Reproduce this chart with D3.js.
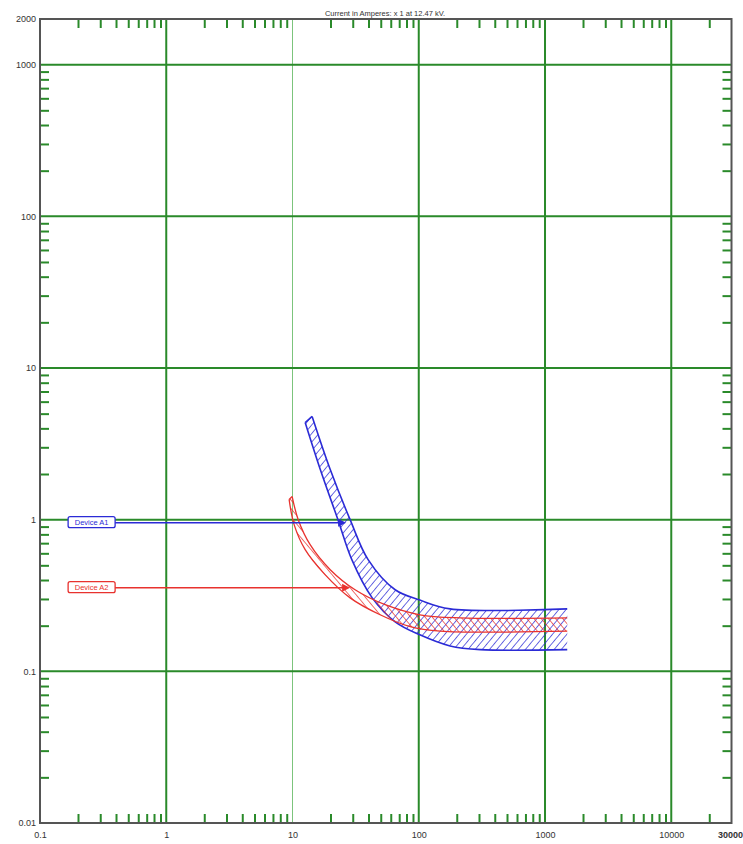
<!DOCTYPE html>
<html>
<head>
<meta charset="utf-8">
<script src="https://cdn.jsdelivr.net/npm/d3@7"></script>
<style>
  body { margin: 0; background: #fff; }
  svg { display: block; font-family: "Liberation Sans", Arial, sans-serif; }
</style>
</head>
<body>
<div id="chart"></div>
<script>
// axis values / labels
var xMajor = [0.1, 1, 10, 100, 1000, 10000, 30000];
var xLabels = ["0.1", "1", "10", "100", "1000", "10000", "30000"];
var yMajor = [0.01, 0.1, 1, 10, 100, 1000, 2000];
var yLabels = ["0.01", "0.1", "1", "10", "100", "1000", "2000"];
var title = "Current in Amperes: x 1 at 12.47 kV.";

// Device A1 band (current A, time s)
var a1Max = [[14.3, 4.79], [19.9, 2.14], [28.6, 1.0], [39.7, 0.545], [65, 0.345], [102, 0.295], [177, 0.258], [1500, 0.258]];
var a1Min = [[12.6, 4.37], [16.6, 2.14], [22.9, 1.0], [29.5, 0.545], [42.8, 0.305], [65, 0.212], [102, 0.174], [177, 0.147], [307, 0.139], [1500, 0.139]];
// Device A2 band
var a2Max = [[9.94, 1.42], [11.1, 1.0], [13.8, 0.684], [19.9, 0.468], [31.3, 0.345], [54.2, 0.275], [102, 0.236], [213, 0.225], [1500, 0.225]];
var a2Min = [[9.4, 1.36], [10.3, 0.927], [12.6, 0.634], [18.1, 0.434], [28.6, 0.305], [49.4, 0.236], [85.5, 0.197], [148, 0.184], [1500, 0.184]];

// labels: name, label current, line time, arrow tip current
var devices = [
  { name: "Device A1", color: "#2b2bd6", at: 0.167, t: 0.955, tip: 26.6 },
  { name: "Device A2", color: "#e8322e", at: 0.167, t: 0.356, tip: 28.6 }
];

var W = 743, H = 844;
var svg = d3.select("#chart").append("svg").attr("width", W).attr("height", H);

var x = d3.scaleLog().domain([0.1, 30000]).range([40, 731.5]);
var y = d3.scaleLog().domain([0.01, 2000]).range([823, 19]);

var green = "#2a8a2a";

// patterns
var defs = svg.append("defs");
function hatch(id, color, dir) {
  var p = defs.append("pattern").attr("id", id).attr("patternUnits", "userSpaceOnUse")
    .attr("width", 5.5).attr("height", 5.5)
    .attr("patternTransform", "rotate(" + dir + ")");
  p.append("line").attr("x1", 0).attr("y1", 0).attr("x2", 0).attr("y2", 5.5)
    .attr("stroke", color).attr("stroke-width", 1.4);
}
hatch("hBlue", "#2b2bd6", 40);
hatch("hRed", "#e8322e", -40);

// grid lines
var gx = [1, 10, 100, 1000, 10000];
var gy = [0.1, 1, 10, 100, 1000];
svg.append("g").selectAll("line").data(gx).enter().append("line")
  .attr("x1", d => x(d)).attr("x2", d => x(d)).attr("y1", y(2000)).attr("y2", y(0.01))
  .attr("stroke", d => d === 10 ? "#7cc47c" : green)
  .attr("stroke-width", d => d === 10 ? 1 : 2);
svg.append("g").selectAll("line").data(gy).enter().append("line")
  .attr("y1", d => y(d)).attr("y2", d => y(d)).attr("x1", x(0.1)).attr("x2", x(30000))
  .attr("stroke", green).attr("stroke-width", 2);

// minor ticks
var xMinor = x.ticks().filter(d => gx.indexOf(d) < 0 && xMajor.indexOf(d) < 0);
var yMinor = y.ticks().filter(d => gy.indexOf(d) < 0 && yMajor.indexOf(d) < 0);

function minor(axis, tx, ty) {
  var g = svg.append("g").attr("transform", "translate(" + tx + "," + ty + ")").call(axis);
  g.select(".domain").remove();
  g.selectAll("text").remove();
  g.selectAll(".tick line").attr("stroke", green).attr("stroke-width", 2);
}
minor(d3.axisTop(x).tickValues(xMinor).tickSize(-9), 0, y(2000));
minor(d3.axisBottom(x).tickValues(xMinor).tickSize(-9), 0, y(0.01));
minor(d3.axisLeft(y).tickValues(yMinor).tickSize(-9), x(0.1), 0);
minor(d3.axisRight(y).tickValues(yMinor).tickSize(-9), x(30000), 0);

// frame
svg.append("rect").attr("x", x(0.1)).attr("y", y(2000))
  .attr("width", x(30000) - x(0.1)).attr("height", y(0.01) - y(2000))
  .attr("fill", "none").attr("stroke", "#555").attr("stroke-width", 2);

// labels
var yAx = svg.append("g").attr("transform", "translate(" + x(0.1) + ",0)")
  .call(d3.axisLeft(y).tickValues(yMajor).tickSize(0).tickPadding(4).tickFormat((d, i) => yLabels[i]));
yAx.select(".domain").remove();
yAx.selectAll("text").attr("font-size", 9).attr("fill", "#333").attr("font-family", "Liberation Sans, Arial");

var xAx = svg.append("g").attr("transform", "translate(0," + y(0.01) + ")")
  .call(d3.axisBottom(x).tickValues(xMajor).tickSize(0).tickPadding(9).tickFormat((d, i) => xLabels[i]));
xAx.select(".domain").remove();
xAx.selectAll("text").attr("font-size", 9).attr("fill", "#333").attr("font-family", "Liberation Sans, Arial");
// last label sits against the right edge
xAx.selectAll("text").filter((d, i) => i === xLabels.length - 1)
  .attr("text-anchor", "end").attr("dx", 11).attr("font-weight", "bold");

svg.append("text").attr("x", 385).attr("y", 16).attr("text-anchor", "middle")
  .attr("font-size", 7.5).attr("fill", "#333").text(title);

// bands
var line = d3.line().x(d => x(d[0])).y(d => y(d[1])).curve(d3.curveCatmullRom.alpha(0.5));
function band(upper, lower, color, pat, sw) {
  var poly = line(upper) + "L" + line(lower.slice().reverse()).slice(1) + "Z";
  svg.append("path").attr("d", poly).attr("fill", "url(#" + pat + ")").attr("stroke", "none");
  [upper, lower].forEach(function (c) {
    svg.append("path").attr("d", line(c)).attr("fill", "none")
      .attr("stroke", color).attr("stroke-width", sw);
  });
  // top cap
  svg.append("line").attr("x1", x(upper[0][0])).attr("y1", y(upper[0][1]))
    .attr("x2", x(lower[0][0])).attr("y2", y(lower[0][1]))
    .attr("stroke", color).attr("stroke-width", sw);
}
band(a1Max, a1Min, "#2b2bd6", "hBlue", 1.6);
band(a2Max, a2Min, "#e8322e", "hRed", 1.3);

// device labels with arrows
devices.forEach(function (d) {
  var lx = x(d.at), ly = y(d.t), tx = x(d.tip);
  svg.append("line").attr("x1", lx + 46).attr("x2", tx - 6).attr("y1", ly).attr("y2", ly)
    .attr("stroke", d.color).attr("stroke-width", 1.5);
  svg.append("path")
    .attr("d", "M" + tx + "," + ly + "L" + (tx - 8) + "," + (ly - 4) + "L" + (tx - 8) + "," + (ly + 4) + "Z")
    .attr("fill", d.color);
  svg.append("rect").attr("x", lx).attr("y", ly - 6).attr("width", 47).attr("height", 11)
    .attr("rx", 2).attr("fill", "#fff").attr("stroke", d.color).attr("stroke-width", 1.3);
  svg.append("text").attr("x", lx + 23.5).attr("y", ly + 2.5).attr("text-anchor", "middle")
    .attr("font-size", 7.5).attr("fill", d.color).text(d.name);
});
</script>
</body>
</html>
